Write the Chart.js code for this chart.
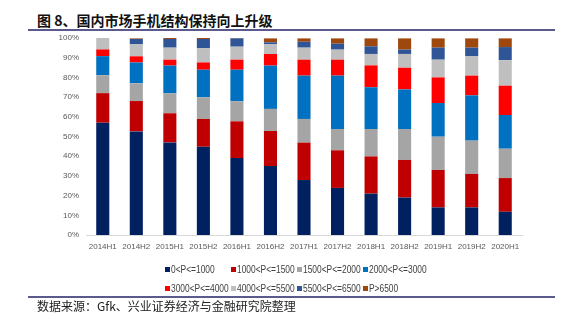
<!DOCTYPE html>
<html>
<head>
<meta charset="utf-8">
<script src="https://cdn.jsdelivr.net/npm/chart.js@4"></script>
<style>
  html, body { margin: 0; padding: 0; background: #fff; }
  body { width: 582px; height: 329px; position: relative; overflow: hidden; }
  #title { position: absolute; left: 37px; top: 11px; font: bold 14px "Noto Sans CJK SC", sans-serif; color: #111; white-space: nowrap; line-height: 18px; }
  .rule { position: absolute; left: 28px; width: 527px; height: 1.5px; background: #5a5a8c; }
  #wrap { position: absolute; left: 0; top: 0; width: 582px; height: 329px; }
  #legend { position: absolute; left: 165px; top: 261px; display: grid; grid-template-columns: 66px 66px 66px 66px; row-gap: 3px; font: 10.5px "Liberation Sans", Arial, sans-serif; color: #404040; }
  .li { display: flex; align-items: center; white-space: nowrap; height: 16px; }
  .sw { width: 5px; height: 5px; margin-right: 1px; flex: none; }
  .tx { display: inline-block; transform: scaleX(0.8); transform-origin: left center; }
  #note { position: absolute; left: 37px; top: 298px; font: 12px "Noto Sans CJK SC", sans-serif; color: #222; white-space: nowrap; line-height: 16px; }
</style>
</head>
<body>
<div id="title">图 8、国内市场手机结构保持向上升级</div>
<div class="rule" style="top:29px"></div>
<div id="wrap"><canvas id="c" width="582" height="329"></canvas></div>
<div id="legend"></div>
<div class="rule" style="top:296px"></div>
<div id="note">数据来源：Gfk、兴业证券经济与金融研究院整理</div>
<script>
const categories = ["2014H1","2014H2","2015H1","2015H2","2016H1","2016H2","2017H1","2017H2","2018H1","2018H2","2019H1","2019H2","2020H1"];
const seriesNames = ["0<P<=1000","1000<P<=1500","1500<P<=2000","2000<P<=3000","3000<P<=4000","4000<P<=5500","5500<P<=6500","P>6500"];
const p0_1000     = [57, 52.6, 47, 44.8, 39.1, 35, 27.9, 23.9, 21, 19, 14, 14, 11.8];
const p1000_1500  = [15, 15.4, 14.8, 14.1, 18.6, 17.8, 19, 19.1, 18.9, 19.1, 19, 17, 17.1];
const p1500_2000  = [9.1, 9, 10.1, 11, 10.2, 11.2, 12, 10.8, 13.9, 15.7, 16.9, 16.9, 14.9];
const p2000_3000  = [9.7, 10.6, 14.1, 14, 16, 22, 22, 27.1, 21.2, 20.1, 17.1, 23, 17.1];
const p3000_4000  = [3.4, 3.1, 3, 3.7, 5.1, 5.9, 8.1, 8.1, 11.1, 11, 13, 10, 14.9];
const p4000_5500  = [5.9, 6.1, 6.1, 7.3, 6.6, 4.9, 6.1, 5.1, 5.8, 7, 9, 9.8, 12.9];
const p5500_6500  = [0, 2.7, 4.4, 4.6, 4.2, 1.0, 3.0, 3.0, 3.9, 2.2, 6.1, 4.4, 6.7];
const p6500_plus  = [0, 0.3, 0.5, 0.5, 0.2, 2.0, 1.7, 2.7, 4.0, 5.7, 4.7, 4.7, 4.4];
const yTicks = [0,10,20,30,40,50,60,70,80,90,100];

const seriesData = [p0_1000, p1000_1500, p1500_2000, p2000_3000, p3000_4000, p4000_5500, p5500_6500, p6500_plus];
const colors = ["#002060","#C00000","#A5A5A5","#0070C0","#FF0000","#BFBFBF","#2F5597","#9E480E"];

const datasets = seriesNames.map((n, i) => ({
  label: n,
  data: seriesData[i],
  backgroundColor: colors[i],
  borderWidth: 0,
  categoryPercentage: 1,
  barPercentage: 0.39
}));

const tickFont = { family: "'Liberation Sans', Arial, sans-serif", size: 8 };

new Chart(document.getElementById('c'), {
  type: 'bar',
  data: { labels: categories, datasets },
  options: {
    responsive: false,
    animation: false,
    layout: { padding: { left: 44, right: 60, top: 38, bottom: 74 } },
    plugins: { legend: { display: false }, tooltip: { enabled: false } },
    scales: {
      x: {
        stacked: true,
        grid: { display: false, drawTicks: false },
        border: { display: true, color: '#D9D9D9', width: 1 },
        ticks: { color: '#595959', font: tickFont, padding: 7, maxRotation: 0, autoSkip: false },
        afterFit: s => { s.height = 20; }
      },
      y: {
        stacked: true,
        min: 0, max: 100,
        afterBuildTicks: s => { s.ticks = yTicks.map(v => ({ value: v })); },
        grid: { display: false, drawTicks: false },
        border: { display: false },
        ticks: { color: '#595959', font: tickFont, padding: 7, callback: v => v + '%' },
        afterFit: s => { s.width = 42; }
      }
    }
  }
});

const lg = document.getElementById('legend');
seriesNames.forEach((n, i) => {
  const d = document.createElement('div');
  d.className = 'li';
  const sw = document.createElement('span');
  sw.className = 'sw';
  sw.style.background = colors[i];
  const t = document.createElement('span');
  t.className = 'tx';
  t.textContent = n;
  d.appendChild(sw); d.appendChild(t);
  lg.appendChild(d);
});
</script>
</body>
</html>
